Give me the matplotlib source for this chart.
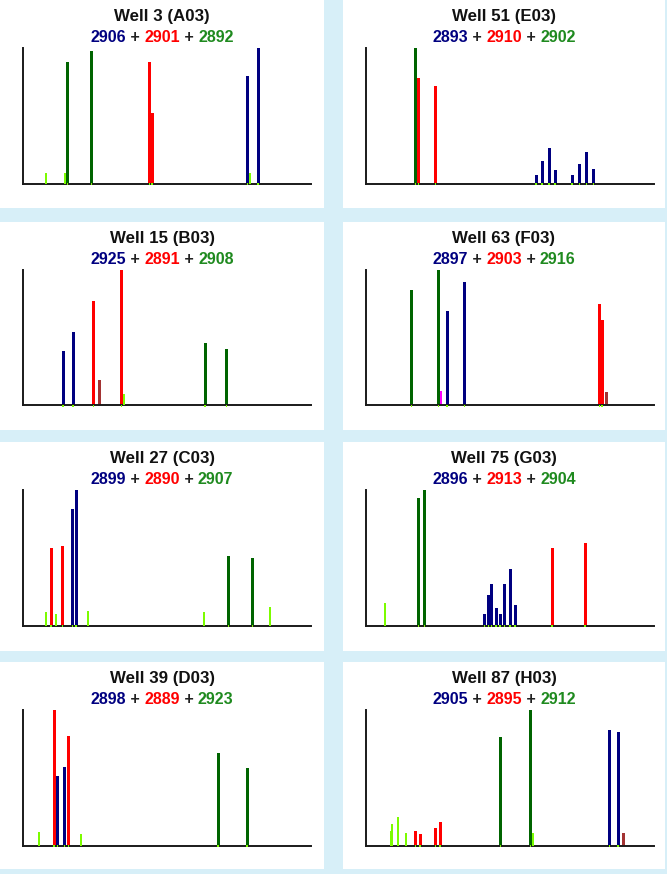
import matplotlib.pyplot as plt
from matplotlib.patches import Rectangle

plt.rcParams['font.family'] = ['Liberation Sans', 'DejaVu Sans']

wells = ['Well 3 (A03)', 'Well 51 (E03)', 'Well 15 (B03)', 'Well 63 (F03)',
         'Well 27 (C03)', 'Well 75 (G03)', 'Well 39 (D03)', 'Well 87 (H03)']
blue_ids = [2906, 2893, 2925, 2897, 2899, 2896, 2898, 2905]
red_ids = [2901, 2910, 2891, 2903, 2890, 2913, 2889, 2895]
green_ids = [2892, 2902, 2908, 2916, 2907, 2904, 2923, 2912]

# peak positions (scan units, 0-288) and relative heights (%) for each well
navy_x = [[224.7, 235], [170, 176, 183, 189, 206, 213.3, 220.7, 227.7], [40, 50],
          [81, 98.3], [49.7, 53], [118.3, 122.3, 125.3, 130, 134, 138.3, 144, 149],
          [34.3, 41.3], [243.3, 252]]
navy_h = [[79, 100], [6, 16.5, 26, 9.6, 6, 14.3, 23.5, 10.6], [40, 54],
          [70, 91], [86, 100], [8.5, 22.5, 30.6, 13, 8.5, 30.6, 42, 15.4],
          [51.5, 58], [85, 83.7]]
red_x = [[126.3, 129], [52.3, 69.7], [70.3, 98.7], [233.3, 236], [28, 39.7],
         [186, 219], [31, 45.7], [49.3, 54, 69.3, 74]]
red_h = [[90, 52], [78, 72], [77, 100], [74.6, 63], [57.5, 58.5],
         [57, 61], [100, 81], [10.8, 8.4, 13, 17.7]]
green_x = [[44.3, 68.3], [49.3], [182, 203.7], [45.3, 72.3], [205.3, 229.7],
           [52.7, 58.3], [195, 224], [134.3, 164.3]]
green_h = [[90, 97.5], [100], [46, 42], [85, 100], [51, 50],
           [94, 100], [68.6, 57], [80, 100]]
lime_x = [[23.3, 41.7, 227], [], [101], [], [23.3, 33.3, 65, 181, 247.3],
          [19], [16.3, 57.7], [24.7, 26, 32, 40.3, 166.7]]
lime_h = [[8, 8, 8], [], [8.5], [], [10, 8.5, 11, 10, 13.5],
          [16.6], [9.8, 8.6], [10.6, 16, 21, 9.4, 9.4]]
brown_x = [[], [], [76], [240.7], [], [], [], [257.7]]
brown_h = [[], [], [19], [10], [], [], [], [9.4]]
magenta_x = [[], [], [], [74.7], [], [], [], []]
magenta_h = [[], [], [], [11], [], [], [], []]

W, H = 667, 874
BG = '#d7eff8'
NAVY, RED, GREEN = '#000080', '#ff0000', '#006400'
LIME, BROWN, MAGENTA = '#7cfc00', '#a33333', '#ff00ff'

fig = plt.figure(figsize=(W / 100, H / 100), dpi=100, facecolor=BG)
renderer = fig.canvas.get_renderer()

col_x = [0, 343]
col_w = [324, 322]
row_y = [0, 222, 442, 662]
row_h = [208, 208, 209, 207]


def fx(px):
    return px / W


def fy(py):
    return 1 - py / H


def colored_line(xc, y, pieces, **kw):
    texts = [fig.text(0, y, s, color=c, ha='left', va='baseline', **kw) for s, c in pieces]
    widths = [t.get_window_extent(renderer).width for t in texts]
    x = xc * W - sum(widths) / 2
    for t, w in zip(texts, widths):
        t.set_x(x / W)
        x += w


for i, name in enumerate(wells):
    row, col = divmod(i, 2)
    px, py = col_x[col], row_y[row]
    pw, ph = col_w[col], row_h[row]

    # white card behind each well
    fig.add_artist(Rectangle((fx(px), fy(py + ph)), pw / W, ph / H,
                             transform=fig.transFigure, facecolor='white',
                             edgecolor='none', zorder=0))

    cx = fx(px + pw / 2)
    fig.text(cx, fy(py + 21), name, ha='center', va='baseline',
             fontsize=12.2, fontweight='bold', color='#111111')
    colored_line(cx, fy(py + 42.5),
                 [(str(blue_ids[i]), NAVY), (' + ', '#222222'),
                  (str(red_ids[i]), RED), (' + ', '#222222'),
                  (str(green_ids[i]), '#1f8a1f')],
                 fontsize=11.5, fontweight='bold')

    ax = fig.add_axes([fx(px + 23), fy(py + 183.5), 288 / W, 135.5 / H])
    ax.set_facecolor('none')
    ax.set_xlim(0, 288)
    ax.set_ylim(0, 100)

    ax.bar(green_x[i], green_h[i], width=3, color=GREEN, zorder=2)
    ax.bar(red_x[i], red_h[i], width=3, color=RED, zorder=2)
    ax.bar(navy_x[i], navy_h[i], width=3, color=NAVY, zorder=2)
    ax.bar(brown_x[i], brown_h[i], width=3, color=BROWN, zorder=2)
    ax.bar(magenta_x[i], magenta_h[i], width=2, color=MAGENTA, zorder=2)
    ax.bar(lime_x[i], lime_h[i], width=2, color=LIME, zorder=3)

    # small lime marks at the foot of every main peak
    feet = green_x[i] + red_x[i] + navy_x[i]
    ax.bar(feet, [1.5] * len(feet), bottom=-0.8, width=1.5, color=LIME,
           zorder=4, clip_on=False)

    for side in ('top', 'right'):
        ax.spines[side].set_visible(False)
    for side in ('left', 'bottom'):
        ax.spines[side].set_linewidth(1.4)
        ax.spines[side].set_color('#1a1a1a')
    ax.set_xticks([])
    ax.set_yticks([])

fig.savefig('out.png', dpi=100, facecolor=BG)
